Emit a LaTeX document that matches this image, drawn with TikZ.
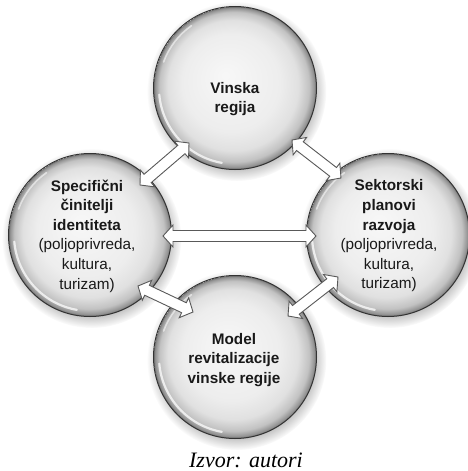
\documentclass[tikz,border=0pt]{standalone}
\usepackage{fontspec}
\setmainfont{Liberation Sans}
\newfontfamily\capfont{Liberation Serif}
\usetikzlibrary{calc,shadows}
\pgfdeclareradialshading{sphere}{\pgfpoint{-3bp}{4bp}}{color(0bp)=(black!3); color(15bp)=(black!7); color(20bp)=(black!12); color(23bp)=(black!24); color(24.4bp)=(black!42); color(25bp)=(black!55)}
\newcommand\dblarrow[2]{%
  \draw[arrbox] (#1)
    -- ($(#1)!10pt!(#2)!11pt!90:(#2)$)
    -- ($(#1)!10pt!(#2)!5.5pt!90:(#2)$)
    -- ($(#2)!10pt!(#1)!5.5pt!-90:(#1)$)
    -- ($(#2)!10pt!(#1)!11pt!-90:(#1)$)
    -- (#2)
    -- ($(#2)!10pt!(#1)!11pt!90:(#1)$)
    -- ($(#2)!10pt!(#1)!5.5pt!90:(#1)$)
    -- ($(#1)!10pt!(#2)!5.5pt!-90:(#2)$)
    -- ($(#1)!10pt!(#2)!11pt!-90:(#2)$)
    -- cycle;}
\newcommand\gloss[1]{%
  \draw[white, line width=2.2pt, opacity=0.75, line cap=round]
    ($(#1.center)+(100:76)$) arc[start angle=100, end angle=175, radius=76];
  \draw[white, line width=1.6pt, opacity=0.55, line cap=round]
    ($(#1.center)+(200:76)$) arc[start angle=200, end angle=235, radius=76];}
\tikzset{
  bubble/.style={circle, minimum size=163pt, inner sep=0pt, draw=black!80,
    line width=1pt, shading=sphere,
    circular drop shadow={shadow xshift=1.5pt, shadow yshift=-3pt, opacity=0.5}},
  arrbox/.style={draw=black!65, line width=0.9pt, fill=white, line join=miter},
  lbl/.style={align=center, text=black!90, font=\fontsize{15.3}{19.6}\selectfont, inner sep=0pt}
}
\begin{document}
\begin{tikzpicture}[x=1pt,y=-1pt]
\fill[white] (0,0) rectangle (468,471);
\useasboundingbox (0,0) rectangle (468,471);
% circles
\node[bubble] (V) at (235,88) {};
\node[bubble] (L) at (90,235) {};
\node[bubble] (R) at (388,235) {};
\node[bubble] (B) at (235,357) {};
\gloss{V}\gloss{L}\gloss{R}\gloss{B}
% arrow end points
\coordinate (tlA) at (140,185);
\coordinate (tlB) at (189,143);
\coordinate (trA) at (292,140);
\coordinate (trB) at (341,178);
\coordinate (hA) at (163,236);
\coordinate (hB) at (316,236);
\coordinate (blA) at (138,286);
\coordinate (blB) at (193,312);
\coordinate (brA) at (288,316);
\coordinate (brB) at (338,277);
\dblarrow{tlA}{tlB}
\dblarrow{trA}{trB}
\dblarrow{hA}{hB}
\dblarrow{blA}{blB}
\dblarrow{brA}{brB}
% texts
\node[lbl] (Vt) at (235,99) {\textbf{Vinska}\\\textbf{regija}};
\node[lbl] (Lt) at (87,236) {\textbf{Specifični}\\\textbf{činitelji}\\\textbf{identiteta}\\(poljoprivreda,\\kultura,\\turizam)};
\node[lbl] (Rt) at (389,236) {\textbf{Sektorski}\\\textbf{planovi}\\\textbf{razvoja}\\(poljoprivreda,\\kultura,\\turizam)};
\node[lbl] (Bt) at (234,360) {\textbf{Model}\\\textbf{revitalizacije}\\\textbf{vinske regije}};
\node[font=\capfont\itshape\fontsize{22}{26}\selectfont, anchor=base, inner sep=0pt] (cap) at (246,467) {Izvor: autori};
\end{tikzpicture}
\end{document}
